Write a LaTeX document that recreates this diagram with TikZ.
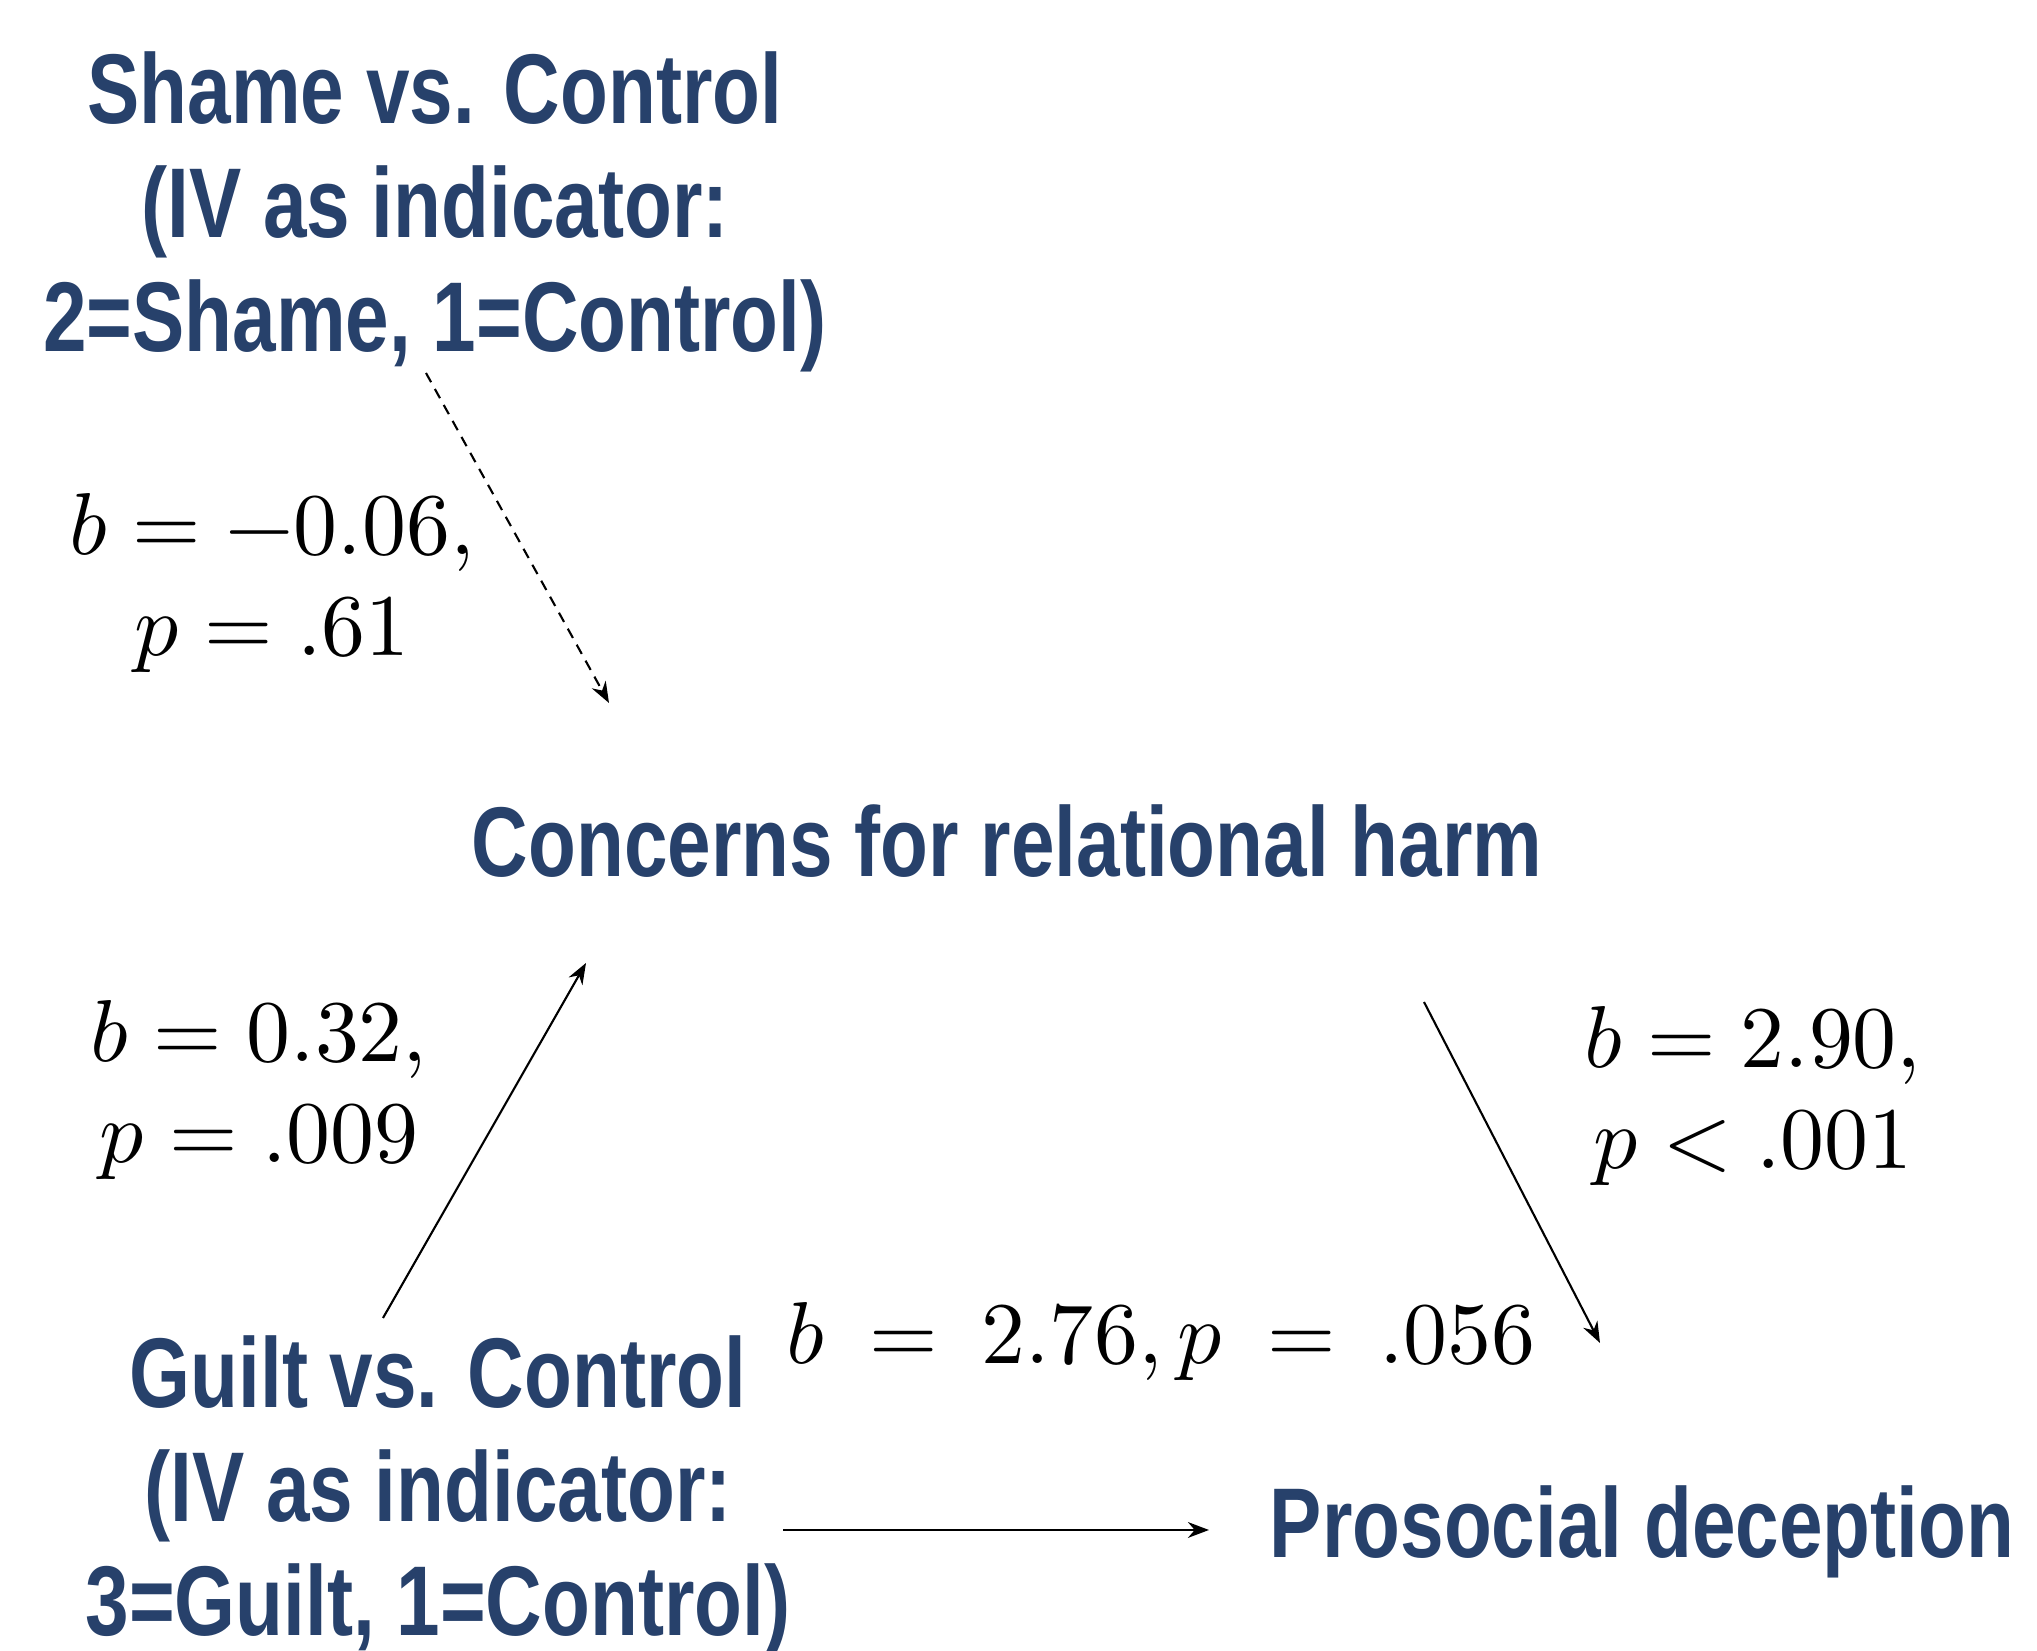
\documentclass[tikz,border=0pt]{standalone}
\usepackage{fontspec}
\usepackage{unicode-math}
\usetikzlibrary{arrows.meta}
\newfontfamily\narrowsans{Liberation Sans}[FakeStretch=0.79]
\definecolor{N}{RGB}{39,65,107}

\begin{document}
\begin{tikzpicture}[
	var/.style={text=N, align=center, inner sep=0pt, font=\narrowsans\bfseries\fontsize{28.2}{32.4}\selectfont},
	coef/.style={align=center, inner sep=0pt, font=\fontsize{25}{28.5}\selectfont},
	path/.style={line width=0.6pt, -{Stealth[length=6pt,width=4.5pt]}}
]
	\useasboundingbox (0,0) rectangle (20.37,16.51);

	%Variables
	\node[var] (shame) at (4.35,14.39) {Shame vs. Control\\(IV as indicator:\\2=Shame, 1=Control)};
	\node[var] (concerns) at (10.07,8.10) {Concerns for relational harm};
	\node[var] (guilt) at (4.38,1.55) {Guilt vs. Control\\(IV as indicator:\\3=Guilt, 1=Control)};
	\node[var] (prosocial) at (16.42,1.19) {Prosocial deception};

	%Extremos de las flechas
	\coordinate (shameOut) at (4.26,12.78);
	\coordinate (concernsInA) at (6.09,9.48);
	\coordinate (guiltOut) at (3.83,3.33);
	\coordinate (concernsInB) at (5.86,6.88);
	\coordinate (concernsOut) at (14.24,6.49);
	\coordinate (prosocialInA) at (16.00,3.08);
	\coordinate (guiltOutB) at (7.83,1.21);
	\coordinate (prosocialInB) at (12.09,1.21);

	%Flechas
	\draw[path, dash pattern=on 3pt off 2.2pt] (shameOut) -- (concernsInA);
	\draw[path] (guiltOut) -- (concernsInB);
	\draw[path] (concernsOut) -- (prosocialInA);
	\draw[path] (guiltOutB) -- (prosocialInB);

	%Coeficientes
	\node[coef] (bShame) at (2.72,10.68) {$b=-0.06,$\\$p=.61$};
	\node[coef] (bGuilt) at (2.59,5.61) {$b=0.32,$\\$p=.009$};
	\node[coef] (bConcerns) at (17.53,5.55) {$b=2.90,$\\$p<.001$};
	\node[coef] (bDirect) at (11.61,3.09) {$b\:=\:2.76,p\:=\:.056$};
\end{tikzpicture}
\end{document}
